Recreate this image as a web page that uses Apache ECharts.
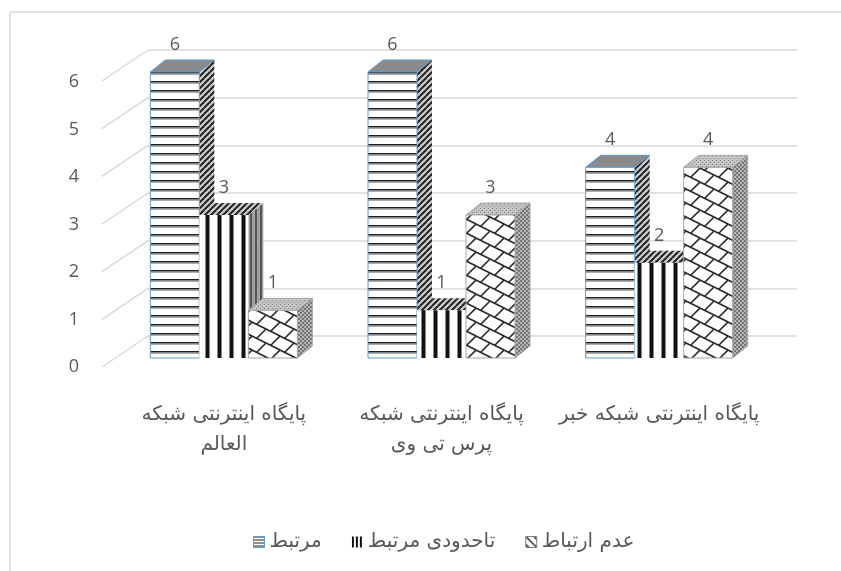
<!DOCTYPE html>
<html>
<head>
<meta charset="utf-8">
<script src="https://cdn.jsdelivr.net/npm/echarts@6/dist/echarts.min.js"></script>
<style>
  html, body { margin: 0; padding: 0; background: #fff; }
  #main { width: 841px; height: 571px; }
</style>
</head>
<body>
<div id="main"></div>
<script>
// data ("پرس تی وی" is kept together with no-break spaces)
var categories = ['پایگاه اینترنتی شبکه العالم', 'پایگاه اینترنتی شبکه پرس\u00a0تی\u00a0وی', 'پایگاه اینترنتی شبکه خبر'];
var seriesNames = ['مرتبط', 'تاحدودی مرتبط', 'عدم ارتباط'];
var related = [6, 6, 4];
var partlyRelated = [3, 1, 2];
var notRelated = [1, 3, 4];
var yTicks = [0, 1, 2, 3, 4, 5, 6];

var TEXT = '#595959';
var GRID = '#d9d9d9';
var FA_FONT = 'DejaVu Sans';
var DEPTH_X = 15, DEPTH_Y = -12;   // bar depth in pixels
var BAR_W = 49;

// ---- fill patterns, drawn on small canvases ----
function tile(w, h, bg, draw) {
  var c = document.createElement('canvas');
  c.width = w; c.height = h;
  var ctx = c.getContext('2d');
  if (bg) { ctx.fillStyle = bg; ctx.fillRect(0, 0, w, h); }
  draw(ctx, w, h);
  return { image: c, repeat: 'repeat' };
}
function wrapLines(ctx, w, h, segs, color, lw) {
  ctx.strokeStyle = color; ctx.lineWidth = lw;
  for (var i = -1; i <= 1; i++) {
    for (var j = -1; j <= 1; j++) {
      segs.forEach(function (s) {
        ctx.beginPath();
        ctx.moveTo(s[0] + i * w, s[1] + j * h);
        ctx.lineTo(s[2] + i * w, s[3] + j * h);
        ctx.stroke();
      });
    }
  }
}

var pat = {
  s1Front: tile(4, 9, '#fff', function (ctx) {
    ctx.fillStyle = '#1e1e1e'; ctx.fillRect(0, 0, 4, 1.6);
    ctx.fillStyle = '#9a9a9a'; ctx.fillRect(0, 1.6, 4, 1.2);
  }),
  slash: tile(6, 6, '#d0d0d0', function (ctx, w, h) {
    wrapLines(ctx, w, h, [[0, 6, 6, 0]], '#222', 2);
  }),
  s1Top: tile(4, 4, '#8a8a8a', function () {}),
  s2Front: tile(12, 4, '#fff', function (ctx) {
    ctx.fillStyle = '#888'; ctx.fillRect(1, 0, 5, 4);
    ctx.fillStyle = '#111'; ctx.fillRect(2, 0, 3, 4);
  }),
  s2Side: tile(5, 4, '#a0a0a0', function (ctx) {
    ctx.fillStyle = '#555'; ctx.fillRect(0, 0, 2, 4);
  }),
  s3Front: tile(28, 14, '#fff', function (ctx, w, h) {
    wrapLines(ctx, w, h, [[0, 0, 28, 14], [14, 7, 4.7, 16.3], [28, 14, 18.7, 23.3]], '#2a2a2a', 1.6);
  }),
  s3Side: tile(4, 4, '#b4b4b4', function (ctx) {
    ctx.fillStyle = '#777'; ctx.fillRect(0, 0, 2, 2); ctx.fillRect(2, 2, 2, 2);
  }),
  s3Top: tile(4, 4, '#c4c4c4', function (ctx) {
    ctx.fillStyle = '#8a8a8a'; ctx.fillRect(0, 0, 1, 1); ctx.fillRect(2, 2, 1, 1);
  }),
  // small versions for the legend keys
  key1: tile(4, 3, '#fff', function (ctx) {
    ctx.fillStyle = '#222'; ctx.fillRect(0, 0, 4, 1);
  }),
  key2: tile(4, 4, '#fff', function (ctx) {
    ctx.fillStyle = '#111'; ctx.fillRect(0, 0, 2, 4);
  }),
  key3: tile(8, 8, '#fff', function (ctx, w, h) {
    wrapLines(ctx, w, h, [[0, 0, 8, 8]], '#222', 1.5);
  })
};

var looks = [
  { front: pat.s1Front, side: pat.slash, top: pat.s1Top, stroke: '#5b9bd5' },
  { front: pat.s2Front, side: pat.s2Side, top: pat.slash, stroke: null },
  { front: pat.s3Front, side: pat.s3Side, top: pat.s3Top, stroke: '#a6a6a6' }
];

// 3D column drawn from the category axis and value axis
function makeBarRender(k) {
  return function (params, api) {
    var idx = api.value(0), val = api.value(1);
    var base = api.coord([idx, 0]);
    var topPt = api.coord([idx, val]);
    var x0 = base[0] - BAR_W * 1.5 + k * BAR_W;
    var x1 = x0 + BAR_W;
    var yb = base[1], yt = topPt[1];
    var look = looks[k];
    var line = look.stroke ? { stroke: look.stroke, lineWidth: 1 } : {};
    return {
      type: 'group',
      children: [
        { type: 'polygon', shape: { points: [[x1, yt], [x1 + DEPTH_X, yt + DEPTH_Y], [x1 + DEPTH_X, yb + DEPTH_Y], [x1, yb]] },
          style: Object.assign({ fill: look.side }, k === 2 ? line : {}) },
        { type: 'polygon', shape: { points: [[x0, yt], [x0 + DEPTH_X, yt + DEPTH_Y], [x1 + DEPTH_X, yt + DEPTH_Y], [x1, yt]] },
          style: Object.assign({ fill: look.top }, line) },
        { type: 'rect', shape: { x: x0, y: yt, width: BAR_W, height: yb - yt },
          style: Object.assign({ fill: look.front }, line) },
        { type: 'text', x: (x0 + x1) / 2, y: yt - 27,
          style: { text: String(val), align: 'center', verticalAlign: 'middle', fill: TEXT,
                   fontSize: 18, fontFamily: 'Open Sans' } }
      ]
    };
  };
}

var allValues = [related, partlyRelated, notRelated];
var barSeries = allValues.map(function (vals, k) {
  return {
    name: seriesNames[k],
    type: 'custom',
    xAxisIndex: 0, yAxisIndex: 0,
    clip: false,
    z: 10 + k,
    renderItem: makeBarRender(k),
    encode: { x: 0, y: 1 },
    itemStyle: { color: looks[k].front },
    data: vals.map(function (v, i) { return [i, v]; })
  };
});

// side wall lines, going from the back wall forward-left
var wallSeries = {
  type: 'custom',
  xAxisIndex: 2, yAxisIndex: 2,
  clip: false,
  silent: true,
  z: 1,
  renderItem: function (params, api) {
    var p = api.coord([0, api.value(1)]);
    return { type: 'line', shape: { x1: p[0], y1: p[1], x2: p[0] - 46, y2: p[1] + 31 },
             style: { stroke: GRID, lineWidth: 1.5 } };
  },
  data: yTicks.map(function (v) { return [0, v]; })
};

// word wrap for the category labels, by measured width
var measureCtx = document.createElement('canvas').getContext('2d');
function wrapLabel(text, font, maxW) {
  measureCtx.font = font;
  var words = text.split(' '), lines = [], cur = '';
  words.forEach(function (w) {
    var next = cur ? cur + ' ' + w : w;
    if (cur && measureCtx.measureText(next).width > maxW) { lines.push(cur); cur = w; }
    else { cur = next; }
  });
  if (cur) lines.push(cur);
  return lines.join('\n');
}

var LABEL_SIZE = 20;
var chart = echarts.init(document.getElementById('main'));
chart.setOption({
  animation: false,
  backgroundColor: '#fff',
  graphic: [{ type: 'rect', shape: { x: 10, y: 12, width: 900, height: 700 },
              style: { fill: null, stroke: GRID, lineWidth: 1.5 }, silent: true, z: -10 }],
  grid: [
    { left: 115, width: 653, top: 72, height: 286 },   // bars
    { left: 102, width: 10, top: 82, height: 285 },    // front value labels
    { left: 148, right: 44, top: 50, height: 286 }     // back wall
  ],
  xAxis: [
    { gridIndex: 0, type: 'category', data: categories,
      axisLine: { show: false }, axisTick: { show: false },
      axisLabel: { margin: 42, color: TEXT, fontSize: LABEL_SIZE, fontFamily: FA_FONT, lineHeight: 30,
                   interval: 0,
                   formatter: function (v) { return wrapLabel(v, LABEL_SIZE + 'px "' + FA_FONT + '"', 212); } } },
    { gridIndex: 1, type: 'value', show: false },
    { gridIndex: 2, type: 'value', min: 0, max: 1, show: false }
  ],
  yAxis: [
    { gridIndex: 0, type: 'value', min: 0, max: 6, interval: 1, show: false },
    { gridIndex: 1, type: 'value', min: 0, max: 6, interval: 1,
      axisLine: { show: false }, axisTick: { show: false }, splitLine: { show: false },
      axisLabel: { color: TEXT, fontSize: 18, fontFamily: 'Open Sans', margin: 23 } },
    { gridIndex: 2, type: 'value', min: 0, max: 6, interval: 1,
      axisLine: { show: false }, axisTick: { show: false }, axisLabel: { show: false },
      splitLine: { show: true, lineStyle: { color: GRID, width: 1.5 } } }
  ],
  legend: {
    top: 527, left: 248,
    itemWidth: 11, itemHeight: 11, itemGap: 30,
    textStyle: { color: TEXT, fontSize: LABEL_SIZE, fontFamily: FA_FONT },
    data: [
      { name: seriesNames[0], icon: 'rect', itemStyle: { color: pat.key1, borderColor: '#5b9bd5', borderWidth: 1 } },
      { name: seriesNames[1], icon: 'rect', itemStyle: { color: pat.key2, borderWidth: 0 } },
      { name: seriesNames[2], icon: 'rect', itemStyle: { color: pat.key3, borderColor: '#7f7f7f', borderWidth: 1 } }
    ]
  },
  series: [wallSeries].concat(barSeries)
});
</script>
</body>
</html>
